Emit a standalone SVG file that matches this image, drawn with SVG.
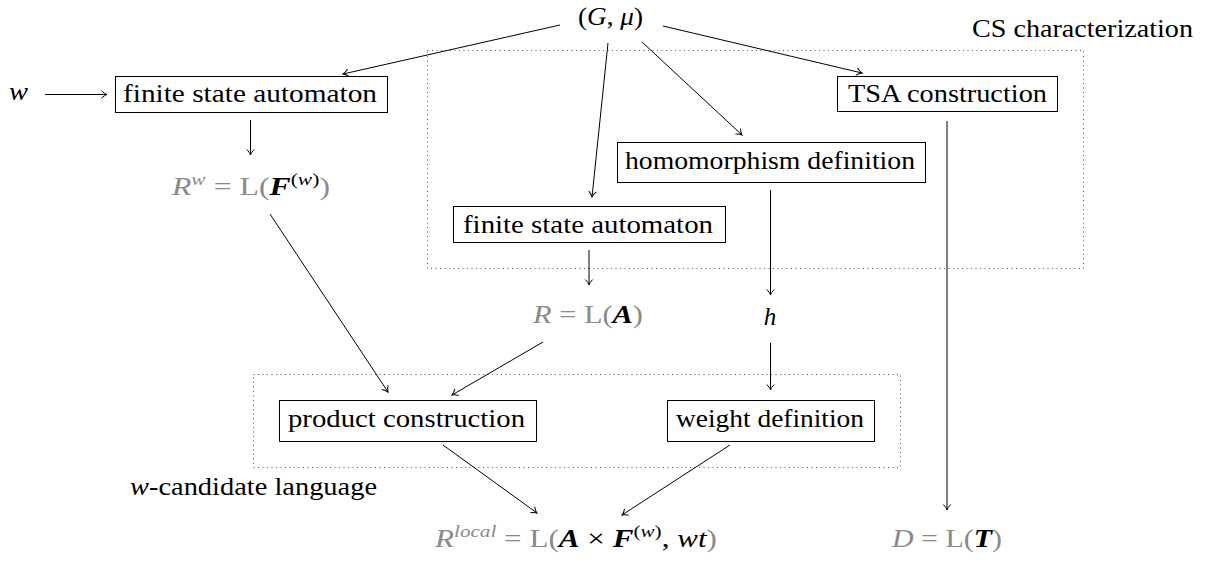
<svg xmlns="http://www.w3.org/2000/svg" width="1210" height="563" viewBox="0 0 1210 563">
<style>
.box{fill:#fff;stroke:#000;stroke-width:1}
.lbl{font-family:"Liberation Serif","DejaVu Serif",serif;font-size:25px;fill:#000}
.math{font-family:"Liberation Serif","DejaVu Serif",serif;font-size:25px;fill:#8a8a8a}
.it{font-style:italic}
.cal{font-style:italic;font-weight:bold;fill:#000}
.blk{fill:#000}
.sup{font-size:17px}
.edge{stroke:#000;stroke-width:1;fill:none;marker-end:url(#ah)}
.grp{fill:none;stroke:#555;stroke-width:1;stroke-dasharray:1 3.5}
</style>
<defs>
<marker id="ah" viewBox="-7 -5 9 10" refX="0" refY="0" markerWidth="9" markerHeight="10" orient="auto" markerUnits="userSpaceOnUse">
<path d="M-5.5,-3.8 C-3.5,-1.6 -1.2,-0.4 0,0 C-1.2,0.4 -3.5,1.6 -5.5,3.8" fill="none" stroke="#000" stroke-width="1"/>
</marker>
</defs>

<g id="groups">
<rect class="grp" x="427.5" y="50.5" width="656" height="218"/>
<rect class="grp" x="253.5" y="374.5" width="647" height="93"/>
<text class="lbl" x="972" y="37" textLength="221" lengthAdjust="spacingAndGlyphs">CS characterization</text>
<text class="lbl" x="130" y="495" textLength="247" lengthAdjust="spacingAndGlyphs"><tspan class="it">w</tspan>-candidate language</text>
</g>

<g id="connectors">
<line class="edge" x1="45" y1="94.5" x2="107" y2="94.5"/>
<line class="edge" x1="560" y1="25" x2="343" y2="74"/>
<line class="edge" x1="608" y1="43" x2="592" y2="197"/>
<line class="edge" x1="642" y1="42" x2="742" y2="135"/>
<line class="edge" x1="663" y1="26" x2="862" y2="73"/>
<line class="edge" x1="250.5" y1="120" x2="250.5" y2="155"/>
<line class="edge" x1="947" y1="121" x2="947" y2="510"/>
<line class="edge" x1="770.5" y1="190" x2="770.5" y2="295"/>
<line class="edge" x1="589" y1="250" x2="589" y2="285"/>
<line class="edge" x1="270" y1="214" x2="388" y2="392"/>
<line class="edge" x1="543" y1="342" x2="452" y2="395"/>
<line class="edge" x1="770.5" y1="343" x2="770.5" y2="390"/>
<line class="edge" x1="443" y1="445" x2="537" y2="513"/>
<line class="edge" x1="730" y1="445" x2="622" y2="515"/>
</g>

<g id="n-Gmu">
<text class="lbl" x="578" y="25" textLength="65" lengthAdjust="spacingAndGlyphs">(<tspan class="it">G</tspan>, <tspan class="it">μ</tspan>)</text>
</g>
<g id="n-w">
<text class="lbl it" x="9" y="100" textLength="19" lengthAdjust="spacingAndGlyphs">w</text>
</g>
<g id="n-fsa1">
<rect class="box" x="115.5" y="76.5" width="272" height="36"/>
<text class="lbl" x="123" y="102" textLength="254" lengthAdjust="spacingAndGlyphs">finite state automaton</text>
</g>
<g id="n-tsa">
<rect class="box" x="837.5" y="76.5" width="220" height="35"/>
<text class="lbl" x="848" y="102" textLength="199" lengthAdjust="spacingAndGlyphs">TSA construction</text>
</g>
<g id="n-hom">
<rect class="box" x="617.5" y="142.5" width="308" height="40"/>
<text class="lbl" x="625" y="169" textLength="290" lengthAdjust="spacingAndGlyphs">homomorphism definition</text>
</g>
<g id="n-fsa2">
<rect class="box" x="453.5" y="206.5" width="272" height="36"/>
<text class="lbl" x="463" y="233" textLength="250" lengthAdjust="spacingAndGlyphs">finite state automaton</text>
</g>
<g id="n-Rw">
<text class="math" x="172" y="195" textLength="158" lengthAdjust="spacingAndGlyphs"><tspan class="it">R</tspan><tspan class="it sup" dy="-10">w</tspan><tspan dy="10"> = L(</tspan><tspan class="cal">F</tspan><tspan class="blk sup" dy="-10">(</tspan><tspan class="blk sup it">w</tspan><tspan class="blk sup">)</tspan><tspan dy="10">)</tspan></text>
</g>
<g id="n-R">
<text class="math" x="533" y="323" textLength="110" lengthAdjust="spacingAndGlyphs"><tspan class="it">R</tspan> = L(<tspan class="cal">A</tspan>)</text>
</g>
<g id="n-h">
<text class="lbl it" x="770" y="325" text-anchor="middle">h</text>
</g>
<g id="n-product">
<rect class="box" x="279.5" y="400.5" width="257" height="41"/>
<text class="lbl" x="288" y="427" textLength="237" lengthAdjust="spacingAndGlyphs">product construction</text>
</g>
<g id="n-weight">
<rect class="box" x="667.5" y="400.5" width="207" height="41"/>
<text class="lbl" x="676" y="427" textLength="188" lengthAdjust="spacingAndGlyphs">weight definition</text>
</g>
<g id="n-Rlocal">
<text class="math" x="435" y="547" textLength="282" lengthAdjust="spacingAndGlyphs"><tspan class="it">R</tspan><tspan class="it sup" dy="-10">local</tspan><tspan dy="10"> = L(</tspan><tspan class="cal">A</tspan><tspan class="blk"> × </tspan><tspan class="cal">F</tspan><tspan class="blk sup" dy="-10">(</tspan><tspan class="blk sup it">w</tspan><tspan class="blk sup">)</tspan><tspan class="blk" dy="10">, </tspan><tspan class="blk it">wt</tspan>)</text>
</g>
<g id="n-D">
<text class="math" x="892" y="547" textLength="110" lengthAdjust="spacingAndGlyphs"><tspan class="it">D</tspan> = L(<tspan class="cal">T</tspan>)</text>
</g>
</svg>
